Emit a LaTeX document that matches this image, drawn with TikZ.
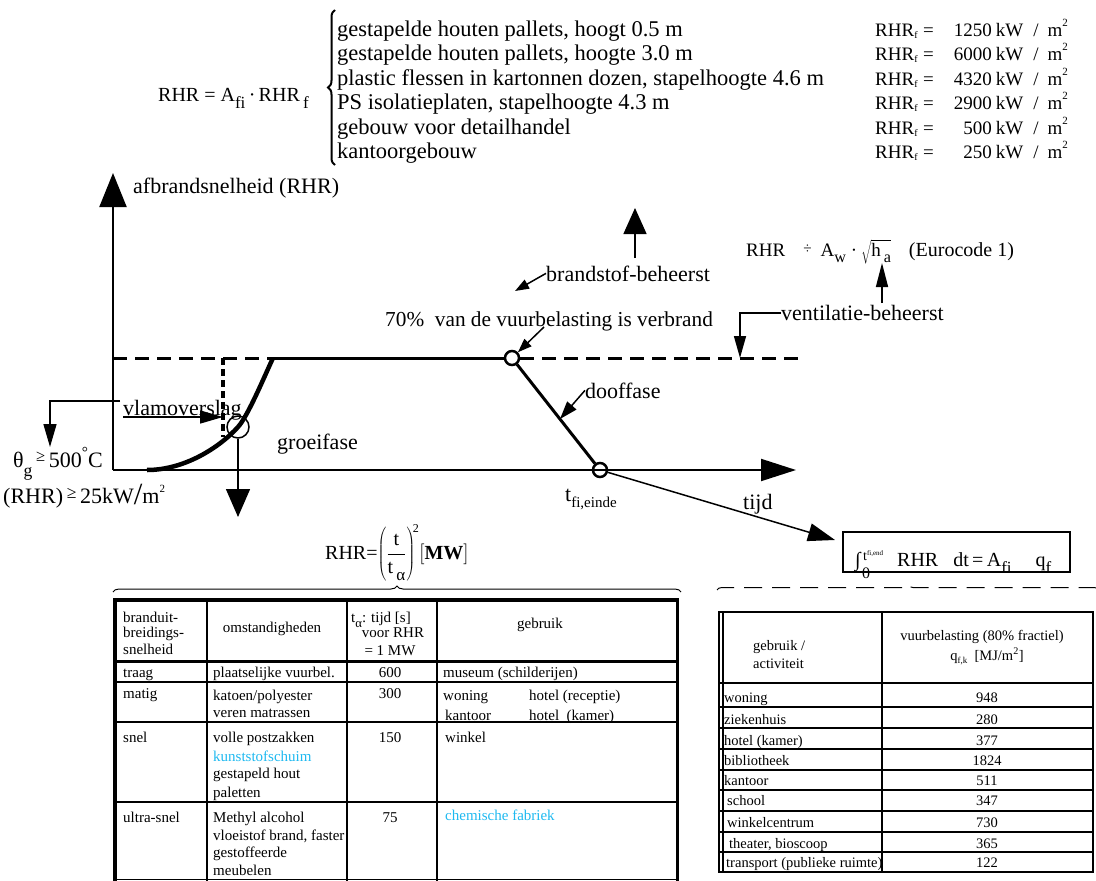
\documentclass[tikz,border=0pt]{standalone}
\usepackage{fontspec}
\setmainfont{Liberation Serif}
\usepackage{tikz}
\usetikzlibrary{arrows.meta}
\usetikzlibrary{decorations,decorations.pathreplacing}
\definecolor{lichtblauw}{RGB}{30,185,240}
\tikzstyle{asline}=[line width=2pt]
\tikzstyle{vuurlijn}=[line width=3pt]
\tikzstyle{wijzer}=[line width=1.5pt]
\tikzstyle{streep}=[line width=3pt, dash pattern=on 14pt off 8pt]
\tikzstyle{dun}=[line width=1.5pt]
\tikzstyle{tekst}=[inner sep=0pt, anchor=base west, font=\fontsize{22}{24}\selectfont]
\tikzstyle{lijsttekst}=[inner sep=0pt, anchor=base west, font=\fontsize{22.5}{25}\selectfont]
\tikzstyle{rhrtekst}=[inner sep=0pt, anchor=base west, font=\fontsize{19}{21}\selectfont]
\tikzstyle{cel}=[inner sep=0pt, anchor=base west, font=\fontsize{15}{17}\selectfont]
\tikzstyle{celm}=[inner sep=0pt, anchor=base, font=\fontsize{15}{17}\selectfont]
\tikzstyle{rcel}=[inner sep=0pt, anchor=base west, font=\fontsize{14.5}{16}\selectfont]
\tikzstyle{rcelm}=[inner sep=0pt, anchor=base, font=\fontsize{14.5}{16}\selectfont]
\tikzstyle{punt}=[circle, draw, inner sep=0pt]
\newcommand{\lowsub}[1]{\raisebox{-0.35em}{\scalebox{0.85}{#1}}}
\newcommand{\kleinboven}[1]{\raisebox{.5em}{\fontsize{11}{11}\selectfont #1}}
\newcommand{\rhrwaarde}[1]{\makebox[48pt][l]{RHR\raisebox{-.15em}{\fontsize{10}{10}\selectfont f}}=\makebox[58pt][r]{#1}\hspace{4pt}kW\hspace{10pt}/\hspace{9pt}m\kleinboven{2}}

\begin{document}
\begin{tikzpicture}[x=1pt,y=-1pt]
	\useasboundingbox (0,0) rectangle (1096,881);
	% formule bovenaan met accolade
	\node[rhrtekst, font=\fontsize{20}{22}\selectfont] (rhrformule) at (158,101) {RHR = A\lowsub{fi}\,·\,RHR\,\lowsub{f}};
	\draw[line width=2pt, decorate, decoration={brace, amplitude=7pt}] (335,165) -- (335,10);
	\node[lijsttekst] (lijst1) at (337,36) {gestapelde houten pallets, hoogt 0.5 m};
	\node[lijsttekst] (lijst2) at (337,60) {gestapelde houten pallets, hoogte 3.0 m};
	\node[lijsttekst] (lijst3) at (337,85) {plastic flessen in kartonnen dozen, stapelhoogte 4.6 m};
	\node[lijsttekst] (lijst4) at (337,109) {PS isolatieplaten, stapelhoogte 4.3 m};
	\node[lijsttekst] (lijst5) at (337,134) {gebouw voor detailhandel};
	\node[lijsttekst] (lijst6) at (337,158) {kantoorgebouw};
	\node[rhrtekst] (waarde1) at (875,36) {\rhrwaarde{1250}};
	\node[rhrtekst] (waarde2) at (875,60) {\rhrwaarde{6000}};
	\node[rhrtekst] (waarde3) at (875,85) {\rhrwaarde{4320}};
	\node[rhrtekst] (waarde4) at (875,109) {\rhrwaarde{2900}};
	\node[rhrtekst] (waarde5) at (875,134) {\rhrwaarde{500}};
	\node[rhrtekst] (waarde6) at (875,158) {\rhrwaarde{250}};

	% assen
	\coordinate (oorsprong) at (113,470);
	\coordinate (ytop) at (113,173);
	\coordinate (xeind) at (796,470);
	\draw[asline, -{Triangle[length=34pt,width=27pt]}] (oorsprong) -- (ytop);
	\draw[asline, -{Triangle[length=35pt,width=22pt]}] (oorsprong) -- (xeind);
	\node[tekst] (yas) at (133,193) {afbrandsnelheid (RHR)};

	% brandverloop
	\coordinate (start) at (147,470);
	\coordinate (volbrand) at (273,358);
	\node[punt, line width=1.5pt, minimum size=22pt] (flashover) at (238,427) {};
	\node[punt, line width=2.5pt, minimum size=14pt] (dooving) at (512,358) {};
	\node[punt, line width=2.5pt, minimum size=14pt] (einde) at (600,470) {};
	\draw[streep] (113,358) -- (volbrand);
	\draw[vuurlijn] (volbrand) -- (dooving.west);
	\draw[vuurlijn] (dooving) -- (einde);
	\draw[streep] (dooving.east) -- (798,358);
	\draw[line width=4.5pt] (start) .. controls (185,470) and (220,447) .. (flashover.center)
		.. controls (248,416) and (265,375) .. (volbrand);
	\draw[line width=4pt, dash pattern=on 7pt off 4pt] (223,358) -- (223,437);

	% vlamoverslag
	\node[tekst] (vlam) at (123,415) {vlamoverslag};
	\coordinate (vlamstart) at (123,417);
	\coordinate (vlampijl) at (223,417);
	\draw[wijzer, -{Triangle[length=23pt,width=13pt]}] (vlamstart) -- (vlampijl);
	\coordinate (hoekstart) at (120,401);
	\coordinate (hoekpijl) at (50,447);
	\draw[wijzer, -{Triangle[length=23pt,width=13pt]}] (hoekstart) -| (hoekpijl);
	\node[tekst] (theta) at (13,467) {θ\raisebox{-.45em}{\scalebox{.8}{g}}\,\raisebox{.25em}{\scalebox{.75}{≥}}\,500\raisebox{.45em}{\scalebox{.7}{°}}C};
	\node[tekst] (rhrmin) at (3,503) {(RHR)\,\raisebox{.2em}{\scalebox{.8}{≥}}\,25kW\raisebox{-.05em}{\scalebox{1.4}{/}}m\kleinboven{2}};
	\coordinate (flashpijl) at (238,517);
	\draw[wijzer, -{Triangle[length=28pt,width=24pt]}] (flashover.south) -- (flashpijl);
	\node[tekst] (groei) at (277,449) {groeifase};

	% bovenste labels
	\node[tekst, font=\fontsize{21.3}{23}\selectfont] (zeventig) at (385,326) {70\%\ \ van de vuurbelasting is verbrand};
	\coordinate (zevstart) at (544,327);
	\draw[wijzer, -{Triangle[length=14pt,width=10pt]}] (zevstart) -- (dooving);
	\node[tekst] (brandstof) at (546,281) {brandstof-beheerst};
	\coordinate (brandpijl) at (515,291);
	\draw[wijzer, -{Triangle[length=14pt,width=10pt]}] (brandstof.west) -- (brandpijl);
	\coordinate (opvan) at (635,258);
	\coordinate (optop) at (635,208);
	\draw[wijzer, -{Triangle[length=26pt,width=23pt]}] (opvan) -- (optop);
	\node[rhrtekst] (eurocode) at (746,256) {RHR\hspace{18pt}\raisebox{.15em}{\scalebox{.8}{÷}}\hspace{9pt}A\lowsub{w}\hspace{5pt}·\hspace{4pt}$\sqrt{\mbox{h\hspace{3pt}\lowsub{a}}}$\hspace{18pt}{\fontsize{20}{22}\selectfont (Eurocode 1)}};
	\coordinate (havan) at (882,303);
	\coordinate (hatop) at (882,263);
	\draw[wijzer, -{Triangle[length=24pt,width=12pt]}] (havan) -- (hatop);
	\node[tekst] (ventilatie) at (781,320) {ventilatie-beheerst};
	\coordinate (ventstart) at (781,313);
	\coordinate (ventpijl) at (740,358);
	\draw[wijzer, -{Triangle[length=22pt,width=12pt]}] (ventstart) -| (ventpijl);
	\node[tekst] (doof) at (585,398) {dooffase};
	\coordinate (doofpijl) at (560,419);
	\draw[wijzer, -{Triangle[length=18pt,width=12pt]}] (doof.west) -- (doofpijl);

	% einde en integraal
	\node[tekst] (tend) at (565,501) {t\raisebox{-.28em}{\fontsize{15}{15}\selectfont fi,einde}};
	\node[tekst] (tijd) at (743,509) {tijd};
	\coordinate (tijdpijl) at (835,540);
	\draw[wijzer, -{Triangle[length=27pt,width=18pt]}] (einde) -- (tijdpijl);
	\node[draw, dun, minimum width=227pt, minimum height=40pt, inner sep=0pt] (intkader) at (956.5,552) {};
	\node[inner sep=0pt, anchor=base west, font=\fontsize{20}{22}\selectfont] (intteken) at (855,566) {∫};
	\node[inner sep=0pt, anchor=base west, font=\fontsize{14}{14}\selectfont] (intboven) at (863,560) {t\raisebox{.35em}{\fontsize{7}{7}\selectfont fi,end}};
	\node[inner sep=0pt, anchor=base west, font=\fontsize{16}{16}\selectfont] (intonder) at (862,578) {0};
	\node[inner sep=0pt, anchor=base west, font=\fontsize{20}{22}\selectfont] (intrest) at (897,566) {RHR\hspace{15pt}dt\,=\,A\lowsub{fi}\hspace{24pt}q\lowsub{f}};
	\draw[line width=1pt, dash pattern=on 18pt off 10pt, decorate, decoration={brace, amplitude=5pt}] (717,590) -- (1099,590);

	% groeiformule
	\node[inner sep=0pt, anchor=west, font=\fontsize{20}{22}\selectfont] (groeiformule) at (325,553) {RHR=$\left(\displaystyle\frac{\mbox{t}}{\mbox{t\,\lowsub{α}}}\right)^{\!\mbox{\fontsize{12}{12}\selectfont 2}}\!\left[\mbox{\bfseries MW}\right]$};
	\draw[line width=1pt, decorate, decoration={brace, amplitude=6pt}] (113,592) -- (681,592);

	% linker tabel
	\draw[line width=4pt] (115,598) -- (115,881);
	\draw[line width=3pt] (677,598) -- (677,881);
	\draw[dun] (207,600) -- (207,881);
	\draw[dun] (347,600) -- (347,881);
	\draw[dun] (437,600) -- (437,881);
	\draw[line width=4pt] (113,600) -- (679,600);
	\draw[line width=3pt] (113,661) -- (679,661);
	\draw[line width=2.5pt] (113,682) -- (679,682);
	\draw[line width=2pt] (113,722) -- (679,722);
	\draw[dun] (113,802) -- (679,802);
	\draw[dun] (113,879.5) -- (679,879.5);
	\node[cel] (kop1a) at (123,622) {branduit-};
	\node[cel] (kop1b) at (123,637) {breidings-};
	\node[cel] (kop1c) at (123,654) {snelheid};
	\node[celm] (kop2) at (272,632) {omstandigheden};
	\node[cel] (kop3a) at (351,622) {t\lowsub{α}: tijd [s]};
	\node[celm] (kop3b) at (393,637) {voor RHR};
	\node[celm] (kop3c) at (390,655) {= 1 MW};
	\node[celm] (kop4) at (540,628) {gebruik};
	\node[cel] (traag) at (123,677) {traag};
	\node[cel] (traag2) at (213,677) {plaatselijke vuurbel.};
	\node[celm] (traag3) at (390,677) {600};
	\node[cel] (traag4) at (443,677) {museum (schilderijen)};
	\node[cel] (matig) at (123,698) {matig};
	\node[cel] (matig2a) at (213,700) {katoen/polyester};
	\node[cel] (matig2b) at (213,717) {veren matrassen};
	\node[celm] (matig3) at (390,698) {300};
	\node[cel] (matig4a) at (443,700) {woning};
	\node[cel] (matig4b) at (529,700) {hotel (receptie)};
	\node[cel] (matig4c) at (445,720) {kantoor};
	\node[cel] (matig4d) at (529,720) {hotel\ \ (kamer)};
	\node[cel] (snel) at (123,742) {snel};
	\node[cel] (snel2a) at (213,742) {volle postzakken};
	\node[cel, text=lichtblauw] (snel2b) at (213,761) {kunststofschuim};
	\node[cel] (snel2c) at (213,778) {gestapeld hout};
	\node[cel] (snel2d) at (213,797) {paletten};
	\node[celm] (snel3) at (390,742) {150};
	\node[cel] (snel4) at (445,742) {winkel};
	\node[cel] (ultra) at (123,822) {ultra-snel};
	\node[cel] (ultra2a) at (213,822) {Methyl alcohol};
	\node[cel] (ultra2b) at (213,840) {vloeistof brand, faster};
	\node[cel] (ultra2c) at (213,857) {gestoffeerde};
	\node[cel] (ultra2d) at (213,875) {meubelen};
	\node[celm] (ultra3) at (390,822) {75};
	\node[cel, text=lichtblauw] (ultra4) at (445,820) {chemische fabriek};

	% rechter tabel
	\draw[dun] (719,611) -- (719,873);
	\draw[dun] (723,611) -- (723,873);
	\draw[dun] (882,611) -- (882,873);
	\draw[line width=2.5pt] (1093,611) -- (1093,873);
	\draw[line width=2pt] (718,612) -- (1094,612);
	\draw[line width=2pt] (718,683) -- (1094,683);
	\draw[dun] (718,707) -- (1094,707);
	\draw[dun] (718,728) -- (1094,728);
	\draw[dun] (718,749) -- (1094,749);
	\draw[dun] (718,770) -- (1094,770);
	\draw[dun] (718,790) -- (1094,790);
	\draw[dun] (718,811) -- (1094,811);
	\draw[dun] (718,832) -- (1094,832);
	\draw[dun] (718,852) -- (1094,852);
	\draw[line width=2pt] (718,872) -- (1094,872);
	\node[rcel] (rkop1a) at (753,650) {gebruik /};
	\node[rcel] (rkop1b) at (753,668) {activiteit};
	\node[rcelm] (rkop2a) at (982,640) {vuurbelasting (80\% fractiel)};
	\node[rcelm] (rkop2b) at (987,660) {q\raisebox{-.25em}{\fontsize{9}{9}\selectfont f,k}\ \ [MJ/m\textsuperscript{2}]};
	\node[rcel] (rij1) at (724,702) {woning};
	\node[rcelm] (rij1w) at (987,702) {948};
	\node[rcel] (rij2) at (724,724) {ziekenhuis};
	\node[rcelm] (rij2w) at (987,724) {280};
	\node[rcel] (rij3) at (724,745) {hotel (kamer)};
	\node[rcelm] (rij3w) at (987,745) {377};
	\node[rcel] (rij4) at (724,765) {bibliotheek};
	\node[rcelm] (rij4w) at (987,765) {1824};
	\node[rcel] (rij5) at (724,785) {kantoor};
	\node[rcelm] (rij5w) at (987,785) {511};
	\node[rcel] (rij6) at (727,805) {school};
	\node[rcelm] (rij6w) at (987,805) {347};
	\node[rcel] (rij7) at (727,827) {winkelcentrum};
	\node[rcelm] (rij7w) at (987,827) {730};
	\node[rcel] (rij8) at (729,848) {theater, bioscoop};
	\node[rcelm] (rij8w) at (987,848) {365};
	\node[rcel] (rij9) at (726,867) {transport (publieke ruimte)};
	\node[rcelm] (rij9w) at (987,867) {122};
\end{tikzpicture}
\end{document}
